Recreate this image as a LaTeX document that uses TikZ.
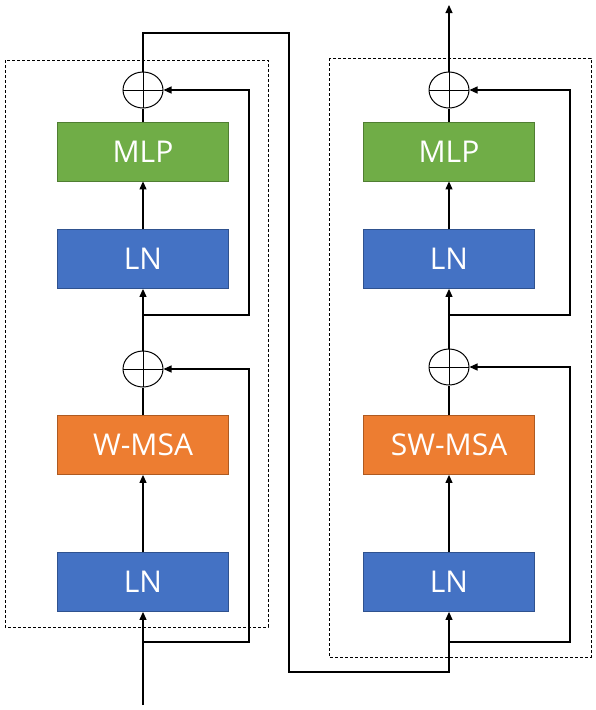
\documentclass[tikz,border=0pt]{standalone}
\usepackage{fontspec}
\setmainfont{Open Sans}
\usetikzlibrary{arrows.meta,shapes.geometric}
\definecolor{lnblue}{HTML}{4472C4}
\definecolor{lnborder}{HTML}{2F528F}
\definecolor{mlpgreen}{HTML}{70AD47}
\definecolor{mlpborder}{HTML}{507E32}
\definecolor{msaorange}{HTML}{ED7D31}
\definecolor{msaborder}{HTML}{AE5A21}
\begin{document}
\begin{tikzpicture}
[x=1pt,y=-1pt,
  blockdecorate/.style={shape=rectangle,minimum width=171pt,minimum height=59pt,inner sep=0pt,line width=0.8pt,text=white,font=\fontsize{30}{36}\selectfont},%
  lndecorate/.style={blockdecorate,fill=lnblue,draw=lnborder},%
  mlpdecorate/.style={blockdecorate,fill=mlpgreen,draw=mlpborder},%
  msadecorate/.style={blockdecorate,fill=msaorange,draw=msaborder},%
  adddecorate/.style={shape=ellipse,minimum width=40pt,minimum height=36pt,inner sep=0pt,draw,line width=1pt,
    path picture={\draw[line width=1pt] (path picture bounding box.north) -- (path picture bounding box.south)
      (path picture bounding box.west) -- (path picture bounding box.east);}},%
  linedecorate/.style={-,line width=1.1pt},%
  arrowdecorate/.style={-{Triangle[length=8pt,width=7pt]},line width=1.1pt},%
  framedecorate/.style={draw,dash pattern=on 3pt off 2pt,line width=0.9pt}]
\useasboundingbox (0,0) rectangle (595,710);
% dashed frames
\draw[framedecorate] (5,60) rectangle (268,627);
\draw[framedecorate] (329,58) rectangle (591,657);
% nodes of the first block
\coordinate (in) at (143,705);
\node (lnA) at (143,582) [lndecorate] {LN};
\node (wmsa) at (143,445) [msadecorate] {W-MSA};
\node (addA) at (143,369) [adddecorate] {};
\node (lnB) at (143,259) [lndecorate] {LN};
\node (mlpA) at (143,151.5) [mlpdecorate] {MLP};
\node (addB) at (143,90) [adddecorate] {};
\coordinate (skipA) at (143,642);
\coordinate (skipB) at (143,315);
% nodes of the second block
\node (lnC) at (449,582) [lndecorate] {LN};
\node (swmsa) at (449,445) [msadecorate] {SW-MSA};
\node (addC) at (449,367) [adddecorate] {};
\node (lnD) at (449,259) [lndecorate] {LN};
\node (mlpB) at (449,151.5) [mlpdecorate] {MLP};
\node (addD) at (449,90) [adddecorate] {};
\coordinate (skipC) at (449,642);
\coordinate (skipD) at (449,315);
\coordinate (out) at (449,5);
% turning points between the blocks
\coordinate (turnA) at (143,33);
\coordinate (turnB) at (289,672);
% edges of the first block
\path
(in) edge[arrowdecorate] (lnA)
(lnA) edge[arrowdecorate] (wmsa)
(wmsa) edge[linedecorate] (addA)
(addA) edge[arrowdecorate] (lnB)
(lnB) edge[arrowdecorate] (mlpA)
(mlpA) edge[linedecorate] (addB);
\draw[arrowdecorate] (skipA) -- ++(106,0) |- (addA);
\draw[arrowdecorate] (skipB) -- ++(106,0) |- (addB);
% from the first block to the second
\draw[arrowdecorate] (addB) -- (turnA) -| (turnB) -| (lnC);
% edges of the second block
\path
(lnC) edge[arrowdecorate] (swmsa)
(swmsa) edge[linedecorate] (addC)
(addC) edge[arrowdecorate] (lnD)
(lnD) edge[arrowdecorate] (mlpB)
(mlpB) edge[linedecorate] (addD)
(addD) edge[arrowdecorate] (out);
\draw[arrowdecorate] (skipC) -- ++(121,0) |- (addC);
\draw[arrowdecorate] (skipD) -- ++(121,0) |- (addD);
\end{tikzpicture}
\end{document}
